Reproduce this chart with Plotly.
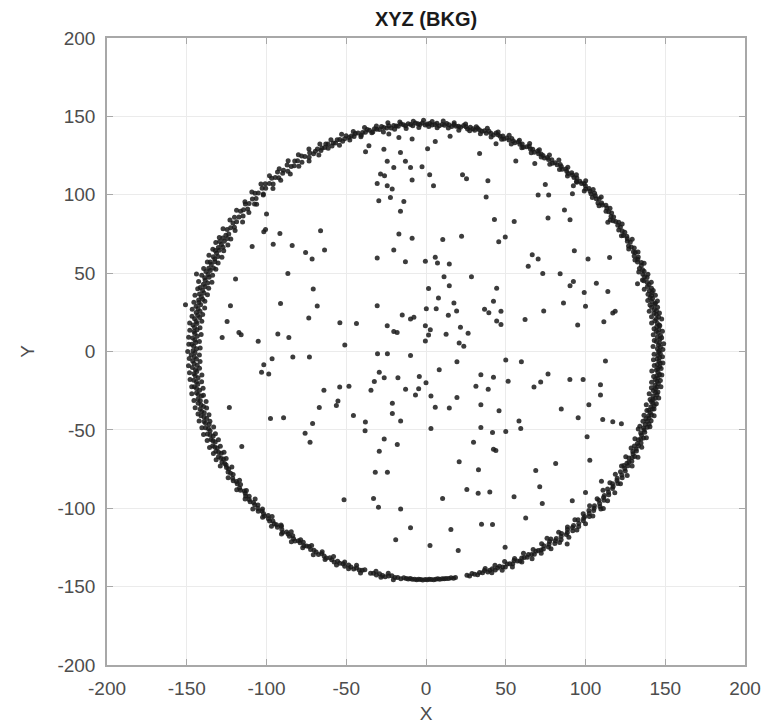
import numpy as np
import plotly.graph_objects as go

# ---------------------------------------------------------------
# Ring events, core of the band: polar angle (deg) and radius
# ---------------------------------------------------------------
ring_deg = [
    # 0-30
    0.2, 0.7, 1.1, 1.6, 2.2, 2.5, 3.1, 3.6, 4.0, 4.7,
    5.1, 5.5, 6.2, 6.6, 7.1, 7.8, 8.2, 8.6, 9.3, 9.7,
    10.2, 10.6, 11.3, 11.8, 12.1, 12.7, 13.4, 13.8, 14.2, 14.9,
    15.5, 15.9, 16.6, 17.0, 17.7, 18.3, 18.8, 19.2, 19.9, 20.5,
    21.0, 21.6, 22.1, 22.8, 23.3, 23.9, 24.4, 25.0, 25.7, 26.1,
    26.8, 27.4, 27.9, 28.6, 29.1, 29.7,
    # 30-60
    30.3, 30.9, 31.4, 32.0, 32.7, 33.1, 33.8, 34.3, 34.9, 35.4,
    36.1, 36.6, 37.2, 37.9, 38.4, 38.9, 39.6, 40.2, 40.7, 41.3,
    41.9, 42.4, 43.1, 43.7, 44.2, 44.8, 45.5, 46.0, 46.6, 47.2,
    47.7, 48.4, 49.0, 49.5, 50.1, 50.8, 51.3, 51.9, 52.5, 53.0,
    53.7, 54.3, 54.8, 55.4, 56.1, 56.6, 57.2, 57.9, 58.4, 59.0,
    59.6,
    # 60-90
    60.2, 60.8, 61.3, 61.9, 62.6, 63.1, 63.7, 64.2, 64.9, 65.5,
    66.0, 66.6, 67.3, 67.8, 68.4, 68.9, 69.6, 70.2, 70.7, 71.3,
    71.9, 72.5, 73.0, 73.7, 74.3, 74.8, 75.4, 76.0, 76.7, 77.2,
    77.8, 78.3, 79.0, 79.6, 80.1, 80.7, 81.4, 81.9, 82.5, 83.1,
    83.6, 84.3, 84.9, 85.4, 86.0, 86.7, 87.3, 87.8, 88.5, 89.1,
    # 90-120
    89.7, 90.2, 90.9, 91.5, 92.0, 92.6, 93.3, 93.8, 94.4, 95.1,
    95.6, 96.2, 96.9, 97.4, 98.0, 98.7, 99.2, 99.8, 100.5, 101.0,
    101.6, 102.3, 102.8, 103.4, 104.1, 104.6, 105.2, 105.9, 106.4, 107.0,
    107.7, 108.2, 108.8, 109.5, 110.0, 110.6, 111.3, 111.8, 112.4, 113.1,
    113.6, 114.2, 114.9, 115.4, 116.0, 116.7, 117.2, 117.8, 118.5, 119.2,
    # 120-150
    119.9, 120.6, 121.4, 122.0, 122.8, 123.5, 124.1, 124.9, 125.6, 126.2,
    127.0, 127.7, 128.3, 129.1, 129.8, 130.4, 131.2, 131.9, 132.5, 133.3,
    134.0, 134.6, 135.4, 136.1, 136.7, 137.5, 138.2, 138.8, 139.6, 140.3,
    140.9, 141.7, 142.4, 143.0, 143.8, 144.5, 145.1, 145.9, 146.6, 147.2,
    148.0, 148.8,
    # 150-210
    149.4, 149.9, 150.4, 150.9, 151.5, 152.0, 152.4, 153.0, 153.5, 154.0,
    154.5, 155.1, 155.6, 156.0, 156.6, 157.1, 157.6, 158.2, 158.7, 159.1,
    159.7, 160.2, 160.8, 161.3, 161.8, 162.3, 162.9, 163.4, 163.9, 164.5,
    165.0, 165.5, 166.1, 166.6, 167.0, 167.6, 168.1, 168.7, 169.2, 169.7,
    170.2, 170.8, 171.3, 171.8, 172.4, 172.9, 173.4, 174.0, 174.5, 175.0,
    175.5, 176.1, 176.6, 177.1, 177.7, 178.2, 178.7, 179.3, 179.8, 180.3,
    180.8, 181.4, 181.9, 182.4, 183.0, 183.5, 184.0, 184.6, 185.1, 185.6,
    186.1, 186.7, 187.2, 187.7, 188.3, 188.8, 189.3, 189.9, 190.4, 190.9,
    191.4, 192.0, 192.5, 193.0, 193.6, 194.1, 194.6, 195.2, 195.7, 196.2,
    196.7, 197.3, 197.8, 198.3, 198.9, 199.4, 199.9, 200.5, 201.0, 201.5,
    202.0, 202.6, 203.1, 203.6, 204.2, 204.7, 205.2, 205.8, 206.3, 206.8,
    207.3, 207.9, 208.4, 208.9, 209.5, 210.0,
    # 210-240
    210.6, 211.2, 211.8, 212.4, 213.0, 213.7, 214.3, 214.9, 215.5, 216.1,
    216.7, 217.3, 218.0, 218.6, 219.2, 219.8, 220.4, 221.0, 221.7, 222.3,
    222.9, 223.5, 224.1, 224.7, 225.4, 226.0, 226.6, 227.2, 227.8, 228.4,
    229.1, 229.7, 230.3, 230.9, 231.5, 232.1, 232.8, 233.4, 234.0, 234.6,
    235.2, 235.8, 236.5, 237.1, 237.7, 238.3, 238.9, 239.5,
    # 240-265
    240.2, 241.0, 241.7, 242.5, 243.1, 243.9, 244.6, 245.4, 246.0, 246.8,
    247.5, 248.2, 249.0, 249.6, 250.4, 251.1, 251.9, 252.5, 253.3, 254.0,
    254.6, 256.2, 256.9, 257.7, 258.4, 259.2, 259.9, 260.7, 261.5, 262.3,
    263.0, 263.8, 264.5,
    # 265-275
    265.1, 265.6, 266.1, 266.6, 267.2, 267.7, 268.2, 268.7, 269.2, 269.8,
    270.3, 270.8, 271.3, 271.9, 272.4, 272.9, 273.4, 274.0, 274.5, 275.0,
    # 275-300
    275.6, 276.2, 276.8, 277.3, 280.2, 280.8, 281.5, 282.1, 282.8, 283.4,
    284.1, 284.7, 285.4, 286.0, 286.7, 287.3, 288.0, 288.6, 289.3, 289.9,
    290.6, 291.2, 291.9, 292.5, 293.2, 293.8, 294.5, 295.1, 295.8, 296.4,
    297.1, 297.7, 298.4, 299.0, 299.7,
    # 300-330
    300.3, 300.8, 301.6, 302.1, 302.6, 303.4, 303.9, 304.4, 305.2, 305.7,
    306.2, 307.0, 307.5, 308.0, 308.8, 309.3, 309.8, 310.6, 311.1, 311.6,
    312.4, 312.9, 313.4, 314.2, 314.7, 315.2, 316.0, 316.5, 317.0, 317.8,
    318.3, 318.8, 319.6, 320.1, 320.6, 321.4, 321.9, 322.4, 323.2, 323.7,
    324.2, 325.0, 325.5, 326.0, 326.8, 327.3, 327.8, 328.6, 329.1, 329.6,
    # 330-360
    330.1, 330.5, 331.0, 331.5, 331.9, 332.4, 332.9, 333.3, 333.8, 334.3,
    334.7, 335.2, 335.7, 336.1, 336.6, 337.1, 337.5, 338.0, 338.5, 338.9,
    339.4, 339.9, 340.3, 340.8, 341.3, 341.7, 342.2, 342.7, 343.1, 343.6,
    344.1, 344.5, 345.0, 345.5, 345.9, 346.4, 346.9, 347.3, 347.8, 348.3,
    348.7, 349.2, 349.7, 350.1, 350.6, 351.1, 351.5, 352.0, 352.5, 352.9,
    353.4, 353.9, 354.3, 354.8, 355.3, 355.7, 356.2, 356.7, 357.1, 357.6,
    358.1, 358.5, 359.0, 359.5, 359.8,
]

ring_r = [
    # 0-30
    146.2, 145.1, 147.0, 145.8, 146.5, 144.6, 146.9, 145.3, 147.4, 146.0,
    144.9, 146.7, 145.5, 147.2, 146.1, 144.8, 145.9, 147.5, 146.3, 145.0,
    146.8, 145.6, 144.3, 146.4, 147.1, 145.2, 146.0, 144.7, 145.8, 146.6,
    145.3, 147.0, 144.9, 146.2, 145.5, 143.8, 146.4, 145.1, 144.6, 146.0,
    145.4, 143.9, 145.7, 146.5, 144.4, 145.2, 146.1, 144.0, 145.6, 144.8,
    146.3, 145.0, 143.7, 145.9, 144.5, 145.3,
    # 30-60
    145.8, 144.2, 146.0, 145.1, 143.6, 145.5, 144.7, 146.3, 145.0, 143.9,
    145.6, 144.5, 146.1, 145.2, 144.0, 145.7, 146.4, 144.8, 145.3, 143.5,
    145.9, 144.6, 145.4, 146.2, 144.3, 145.0, 145.8, 144.1, 145.5, 146.0,
    144.9, 145.3, 143.8, 145.6, 144.7, 145.2, 146.1, 144.4, 145.0, 145.7,
    144.2, 145.4, 146.0, 144.8, 145.1, 143.9, 145.6, 144.6, 145.3, 144.1,
    145.0,
    # 60-90
    145.2, 144.6, 145.9, 144.1, 145.4, 144.8, 146.0, 145.1, 143.9, 145.5,
    144.7, 145.8, 144.3, 145.0, 146.1, 144.6, 145.3, 144.0, 145.7, 144.9,
    145.4, 146.2, 144.5, 145.0, 145.9, 144.2, 145.6, 144.8, 145.3, 146.0,
    144.4, 145.1, 145.7, 144.3, 145.5, 146.1, 144.7, 145.2, 144.9, 145.8,
    144.5, 145.4, 146.0, 144.8, 145.2, 144.3, 145.7, 145.0, 144.6, 145.5,
    # 90-120
    145.1, 144.5, 145.8, 144.9, 145.4, 146.0, 144.3, 145.2, 145.7, 144.6,
    145.3, 146.1, 144.8, 145.0, 145.6, 144.2, 145.9, 144.7, 145.4, 146.2,
    144.5, 145.1, 145.8, 144.0, 145.5, 146.3, 144.9, 145.2, 143.8, 145.7,
    146.0, 144.4, 145.3, 144.9, 146.4, 145.0, 143.9, 145.6, 146.1, 144.6,
    145.2, 143.7, 145.9, 146.5, 144.8, 145.3, 144.1, 146.0, 145.4, 144.5,
    # 120-150
    146.3, 144.0, 145.7, 147.1, 143.6, 145.9, 146.8, 144.4, 145.2, 147.4,
    143.9, 146.1, 145.0, 147.6, 144.2, 145.8, 146.9, 143.5, 145.4, 147.0,
    144.7, 146.3, 143.2, 145.9, 147.3, 144.5, 146.0, 142.9, 145.6, 147.2,
    144.1, 145.8, 146.7, 143.6, 145.3, 147.5, 144.8, 146.2, 143.9, 145.7,
    147.0, 144.6,
    # 150-210
    145.8, 143.9, 146.6, 144.7, 147.2, 145.3, 143.6, 146.1, 144.9, 147.0,
    145.5, 143.8, 146.4, 145.0, 144.2, 146.8, 145.6, 143.5, 146.2, 144.8,
    147.1, 145.2, 144.0, 146.5, 145.7, 143.7, 146.0, 144.6, 147.3, 145.4,
    144.1, 146.7, 145.1, 143.9, 146.3, 145.8, 144.4, 147.0, 145.5, 144.0,
    146.2, 145.0, 143.6, 146.6, 145.3, 144.7, 147.1, 145.9, 144.2, 146.0,
    145.4, 143.8, 146.5, 145.1, 144.5, 146.9, 145.7, 143.9, 146.1, 144.8,
    147.2, 145.3, 144.0, 146.4, 145.6, 143.7, 146.8, 145.0, 144.3, 146.2,
    145.5, 143.9, 146.7, 145.2, 144.6, 147.0, 145.8, 144.1, 146.3, 145.4,
    143.6, 146.1, 144.9, 146.6, 145.1, 143.8, 146.4, 145.7, 144.4, 146.9,
    145.3, 144.0, 146.2, 145.6, 143.7, 146.5, 145.0, 144.5, 146.8, 145.4,
    143.9, 146.0, 145.2, 144.2, 146.6, 145.8, 144.6, 146.3, 145.1, 143.8,
    146.4, 145.5, 144.3, 146.1, 145.0, 144.7,
    # 210-240
    145.3, 144.6, 146.0, 145.1, 144.2, 145.7, 146.3, 144.9, 145.4, 143.9,
    145.8, 146.2, 144.5, 145.0, 145.9, 144.3, 145.6, 146.1, 144.8, 145.2,
    143.8, 145.5, 146.4, 144.7, 145.1, 145.9, 144.0, 145.4, 146.0, 144.6,
    145.3, 144.9, 145.8, 143.7, 145.2, 146.3, 144.5, 145.0, 145.7, 144.2,
    145.5, 146.1, 144.8, 145.3, 144.0, 145.6, 145.0, 144.4,
    # 240-265
    145.6, 144.9, 145.3, 146.0, 144.5, 145.2, 145.8, 144.7, 145.4, 146.1,
    144.8, 145.5, 145.0, 146.2, 144.6, 145.3, 145.9, 144.9, 145.5, 145.1,
    144.4, 145.7, 145.2, 145.9, 144.8, 145.4, 146.0, 145.1, 144.7, 145.5,
    145.2, 145.8, 145.0,
    # 265-275
    145.3, 145.5, 145.2, 145.6, 145.4, 145.7, 145.3, 145.5, 145.8, 145.4,
    145.6, 145.3, 145.5, 145.7, 145.4, 145.2, 145.6, 145.4, 145.5, 145.3,
    # 275-300
    145.5, 145.2, 145.7, 145.4, 145.0, 145.8, 144.6, 145.3, 146.1, 144.9,
    145.5, 144.4, 145.9, 145.1, 144.7, 146.0, 145.3, 144.5, 145.6, 146.2,
    144.8, 145.2, 145.9, 144.3, 145.4, 146.0, 144.7, 145.1, 145.8, 144.5,
    145.4, 146.1, 144.9, 145.2, 145.7,
    # 300-330
    145.9, 144.3, 146.4, 145.1, 143.8, 146.7, 145.4, 144.6, 147.0, 145.2,
    143.9, 146.2, 145.6, 144.1, 146.8, 145.0, 144.5, 147.1, 145.7, 143.6,
    146.3, 145.2, 144.8, 146.9, 145.5, 143.9, 146.1, 145.3, 144.4, 147.2,
    145.8, 144.0, 146.5, 145.1, 144.7, 146.6, 145.4, 143.7, 146.0, 145.6,
    144.2, 146.8, 145.3, 144.6, 147.0, 145.9, 144.1, 146.4, 145.2, 143.8,
    # 330-360
    146.1, 144.7, 145.5, 146.8, 144.2, 145.9, 147.0, 145.3, 144.5, 146.4,
    145.7, 143.9, 146.2, 145.0, 146.9, 144.6, 145.8, 147.1, 145.2, 144.3,
    146.5, 145.6, 144.8, 146.9, 145.1, 147.3, 145.7, 144.4, 146.2, 145.4,
    147.0, 145.9, 144.6, 146.6, 145.3, 147.2, 146.0, 144.9, 145.6, 146.8,
    145.1, 147.4, 146.3, 144.7, 145.8, 146.6, 145.2, 147.1, 146.0, 144.8,
    146.4, 145.5, 147.2, 146.1, 144.9, 145.7, 146.8, 145.3, 147.0, 146.2,
    145.0, 146.5, 145.4, 146.9, 145.8,
]

# ---------------------------------------------------------------
# Ring events on the inner / outer edges of the band
# ---------------------------------------------------------------
edge_deg = [
    # 340-40
    340.4, 341.1, 341.9, 342.6, 343.4, 344.0, 344.8, 345.6, 346.2, 347.0,
    347.7, 348.5, 349.1, 349.9, 350.7, 351.3, 352.1, 352.8, 353.6, 354.2,
    355.0, 355.8, 356.4, 357.2, 357.9, 358.7, 359.3, 0.5, 1.3, 1.9,
    2.8, 3.4, 4.3, 5.0, 5.8, 6.4, 7.3, 8.0, 8.9, 9.5,
    10.4, 11.0, 11.9, 12.5, 13.2, 14.0, 14.7, 15.3, 16.2, 17.4,
    18.6, 19.5, 20.8, 22.4, 24.0, 25.5, 27.2, 29.0, 31.1, 33.5,
    36.0, 38.4,
    # 40-95
    40.6, 41.9, 43.3, 44.6, 45.9, 47.4, 48.8, 50.1, 51.6, 52.9,
    54.2, 55.7, 57.0, 58.3, 59.8, 61.1, 62.5, 63.9, 65.2, 66.5,
    68.0, 69.3, 70.7, 72.1, 73.4, 74.9, 76.2, 77.6, 79.0, 80.3,
    81.7, 83.1, 84.4, 85.8, 87.2, 88.5, 89.3, 90.6, 91.8, 93.1,
    # 95-150
    95.0, 96.4, 97.9, 99.3, 100.8, 102.2, 103.7, 105.1, 106.6, 108.0,
    109.5, 110.9, 112.4, 113.8, 115.3, 116.7, 118.2, 119.6, 121.1, 122.5,
    124.0, 125.4, 126.9, 128.3, 129.8, 131.2, 132.7, 134.1, 135.6, 137.0,
    138.5, 139.9, 141.4, 142.8, 144.3, 145.7, 147.2, 148.4, 149.6, 150.7,
    # 150-215
    151.3, 152.2, 153.1, 154.0, 154.8, 155.7, 156.6, 157.4, 158.3, 159.2,
    160.0, 160.9, 161.8, 162.6, 163.5, 164.4, 165.2, 166.1, 167.0, 167.8,
    168.7, 169.6, 170.4, 171.3, 172.2, 173.0, 173.9, 174.8, 175.6, 176.5,
    177.4, 178.2, 179.1, 180.0, 180.9, 181.7, 182.6, 183.5, 184.3, 185.2,
    186.1, 186.9, 187.8, 188.7, 189.5, 190.4, 191.3, 192.1, 193.0, 193.9,
    194.7, 195.6, 196.5, 197.3, 198.2, 199.1, 199.9, 200.8, 201.7, 202.5,
    203.4, 204.3, 205.1, 206.0, 206.9, 207.7, 208.6, 209.5, 211.2, 213.0,
    # 215-262
    215.1, 216.6, 218.2, 219.7, 221.3, 222.8, 224.4, 225.9, 227.5, 229.0,
    230.6, 232.1, 233.7, 235.2, 236.8, 238.3, 239.9, 241.4, 243.0, 244.5,
    246.1, 247.6, 249.2, 250.7, 252.3, 253.8, 257.4, 258.9, 260.5, 262.0,
    # 285-340
    285.0, 286.3, 287.6, 288.9, 290.2, 291.5, 292.8, 294.1, 295.4, 296.7,
    298.0, 299.3, 300.6, 301.9, 303.2, 304.5, 305.8, 307.1, 308.4, 309.7,
    311.0, 312.3, 313.6, 314.9, 316.2, 317.5, 318.8, 320.1, 321.4, 322.7,
    324.0, 325.3, 326.6, 327.9, 329.2, 330.5, 331.8, 333.1, 334.4, 335.7,
    337.0, 338.3, 339.6, 302.5, 318.0,
]

edge_r = [
    # 340-40
    142.3, 148.4, 143.1, 147.9, 142.6, 148.8, 143.5, 147.6, 142.2, 148.2,
    143.8, 148.9, 142.5, 147.7, 143.2, 149.0, 142.8, 148.1, 143.6, 148.6,
    142.1, 147.8, 143.4, 148.7, 142.7, 148.3, 143.0, 148.5, 142.4, 149.1,
    143.3, 148.0, 142.9, 148.8, 143.7, 147.5, 142.6, 149.2, 143.1, 148.4,
    142.3, 147.9, 143.5, 148.6, 142.8, 148.2, 143.9, 147.7, 142.5, 148.0,
    143.2, 147.6, 142.7, 147.9, 143.4, 147.3, 142.9, 147.8, 143.1, 147.5,
    142.8, 147.2,
    # 40-95
    142.9, 147.6, 143.3, 147.2, 142.6, 147.9, 143.5, 147.0, 142.8, 147.4,
    143.1, 147.8, 142.5, 147.3, 143.6, 147.1, 142.9, 147.7, 143.2, 146.9,
    142.7, 147.5, 143.4, 147.2, 142.8, 147.6, 143.0, 146.8, 143.5, 147.3,
    142.6, 147.0, 143.3, 147.4, 142.9, 146.8, 143.6, 147.5, 143.0, 147.1,
    # 95-150
    142.8, 147.4, 143.2, 147.9, 142.5, 147.2, 143.6, 148.0, 142.9, 147.5,
    143.1, 148.3, 142.4, 147.7, 143.5, 148.1, 142.2, 148.6, 141.9, 148.9,
    142.6, 149.2, 141.7, 148.5, 142.3, 149.0, 141.5, 148.7, 142.8, 149.3,
    141.8, 148.4, 142.1, 149.1, 141.6, 148.8, 142.4, 149.4, 141.9, 148.6,
    # 150-215
    141.6, 149.0, 142.2, 148.7, 141.4, 149.3, 142.0, 148.5, 141.8, 149.1,
    142.4, 148.8, 141.3, 149.4, 142.1, 148.6, 141.7, 149.2, 142.3, 148.9,
    141.5, 149.0, 142.0, 148.4, 141.9, 149.3, 142.5, 148.7, 141.4, 149.1,
    142.2, 148.8, 141.6, 149.4, 142.1, 148.5, 141.8, 149.2, 142.4, 148.9,
    141.3, 149.0, 142.0, 148.6, 141.7, 149.3, 142.3, 148.8, 141.5, 149.1,
    142.2, 148.4, 141.9, 149.0, 142.6, 148.7, 141.6, 149.2, 142.1, 148.5,
    141.8, 148.9, 142.4, 148.3, 142.0, 148.6, 142.7, 148.2, 142.3, 147.9,
    # 215-262
    142.9, 147.8, 143.3, 147.4, 142.6, 148.0, 143.5, 147.2, 142.8, 147.7,
    143.2, 147.5, 142.7, 147.9, 143.6, 147.1, 143.0, 147.6, 143.4, 147.0,
    143.1, 147.3, 143.6, 146.9, 143.2, 147.2, 143.7, 146.8, 143.4, 147.0,
    # 285-340
    143.4, 147.1, 143.0, 147.5, 142.7, 147.8, 143.3, 147.2, 142.5, 148.0,
    143.1, 147.6, 142.4, 148.3, 142.9, 147.9, 142.2, 148.5, 142.8, 148.1,
    142.3, 148.6, 142.9, 148.2, 142.1, 148.7, 142.6, 148.4, 142.0, 148.8,
    142.5, 148.3, 142.2, 148.9, 142.7, 148.5, 142.1, 149.0, 142.6, 148.4,
    142.3, 148.7, 142.0, 141.2, 149.6,
]

# ---------------------------------------------------------------
# Events inside the ring (x, y)
# ---------------------------------------------------------------
inner_x = [
    -23.3, -17.0, -8.7, -37.9, -35.8, -26.4, -16.0, -24.3, -20.2, -12.9,
    -9.7, -28.5, -26.0, -30.6, -24.3, -21.2, -8.7, -29.6, -22.3, -13.9,
    -16.0, -17.0, -8.7, -20.2, -12.9, -30.6, -30.6, -14.9, -9.7, -7.6,
    -24.3, -20.2, -18.1, -100.0, -101.7, -100.6, -91.6, -66.1, -109.0, -95.8,
    -83.9, -75.5, -71.4, -63.6, -119.4, -86.6, -70.7, -143.9, -150.8, -122.6,
    -91.2, -68.2, -73.5, -54.0, -43.6, -124.7, -117.3, -115.9, -127.8, -105.2,
    -92.9, -86.0, -50.9,
    5.8, 15.1, 1.0, 33.6, 43.9, 56.3, 68.2, -2.5, 2.3, 4.7,
    22.9, 25.4, 38.8, 37.7, 74.8, 92.4, 70.3, 76.9, 91.8, 86.8,
    42.9, 55.3, 76.5, 90.3, 114.0, 10.5, 22.3, 45.6, 49.7, 93.0,
    66.6, 70.3, 101.6, 115.1, -0.4, 5.8, 7.2, 14.6, 64.1, 11.3,
    28.5, 73.2, 84.1, 1.6, 14.6, 44.3, 90.3, 92.4, 106.8, 99.2,
    114.0, 132.6, 7.8, 17.5, 42.3, 0.2, 6.4, 19.2, 14.0, 36.7,
    39.4, 47.0, 73.8, 86.2, 100.0, 117.1, 118.6, 111.5, 44.3, 47.0,
    62.1, 95.1, -0.4, 2.7, 1.6, 21.6, 26.4, 12.6, -0.4, 20.8,
    23.7,
    -30.4, -24.2, -9.7, -96.5, -101.7, -103.1, -98.6, -83.5, -73.1, -29.3,
    -26.2, -32.4, -17.6, -34.5, -64.0, -54.1, -48.3, -12.8, -6.6, -21.1,
    -55.2, -56.2, -66.9, -123.3, -21.1, -45.5, -15.9, -38.0, -38.2, -97.5,
    -89.3, -71.1, -75.8, -72.7, -26.2, -18.0, -29.3, -115.5, -31.8, -24.2,
    -51.4, -32.9, -29.8, -15.9, -9.7, -19.0,
    19.4, 50.0, 59.8, 112.5, -4.2, 0.0, -4.6, 8.3, 34.4, 42.3,
    31.3, 39.0, 51.5, 76.5, 71.9, 67.7, 90.2, 98.5, 109.4, 109.4,
    3.1, 19.4, 5.8, 14.6, 34.4, 45.8, 84.8, 102.1, 95.4, 110.8,
    117.1, 122.5, 58.3, 59.4, 3.1, 34.4, 41.7, 50.0, 101.0, 29.8,
    42.3, 43.8, 102.7, 20.8, 81.3, 32.9, 68.8, 110.0, 71.3, 25.6,
    32.7, 40.0, 10.4, 55.2, 72.9, 91.7, 100.0, 62.5, 34.8, 41.7,
    15.6, 2.5, 20.2, 49.6, 88.5,
]

inner_y = [
    138.7, 136.6, 135.5, 127.4, 131.3, 129.1, 127.0, 121.3, 117.4, 121.3,
    117.4, 113.2, 112.1, 107.2, 105.7, 103.6, 109.4, 96.2, 98.3, 95.7,
    89.4, 74.9, 72.2, 64.7, 57.3, 59.6, 29.2, 23.3, 20.7, 21.8,
    16.5, 12.8, 12.2, 87.7, 76.4, 77.8, 75.3, 77.0, 67.0, 68.5,
    67.7, 63.2, 59.0, 64.7, 46.2, 49.8, 39.8, 49.4, 29.8, 29.2,
    30.7, 29.0, 21.3, 18.4, 17.9, 19.2, 12.2, 10.7, 9.0, 6.5,
    11.1, 9.0, 4.1,
    134.0, 137.3, 129.4, 126.3, 132.5, 121.5, 120.0, 117.9, 112.7, 105.8,
    112.7, 110.2, 109.0, 98.5, 106.5, 105.8, 99.8, 99.8, 100.6, 90.2,
    84.2, 82.9, 85.2, 84.0, 82.5, 71.5, 73.5, 70.0, 73.1, 64.2,
    61.7, 59.0, 59.0, 60.0, 57.5, 60.2, 56.5, 55.8, 54.4, 47.7,
    47.7, 49.8, 49.6, 40.2, 41.9, 40.4, 41.9, 44.6, 43.5, 37.7,
    38.3, 43.3, 34.2, 31.0, 32.1, 27.3, 27.3, 25.8, 23.1, 26.9,
    24.8, 25.6, 25.8, 31.0, 28.8, 24.6, 25.6, 19.0, 19.4, 17.3,
    20.4, 16.9, 16.5, 13.8, 10.6, 15.4, 11.7, 11.0, 6.7, 5.4,
    3.3,
    -1.5, -1.5, -2.5, -4.6, -8.5, -13.3, -14.3, -3.5, -3.5, -13.3,
    -16.8, -19.1, -16.8, -24.7, -24.7, -22.6, -22.2, -24.1, -27.8, -33.0,
    -31.5, -34.4, -35.7, -35.7, -39.6, -40.9, -44.4, -45.0, -50.6, -42.7,
    -42.3, -45.9, -52.1, -57.9, -55.8, -59.3, -63.7, -60.6, -77.0, -77.0,
    -94.6, -93.8, -99.4, -100.4, -112.4, -120.1,
    -6.6, -5.4, -6.6, -6.0, -16.0, -19.9, -23.7, -11.6, -14.9, -16.4,
    -22.2, -24.1, -18.9, -14.3, -19.5, -22.6, -17.8, -17.8, -21.2, -27.8,
    -28.4, -29.3, -35.5, -36.1, -34.0, -37.8, -36.7, -34.0, -42.3, -43.4,
    -44.8, -46.1, -44.4, -49.2, -49.2, -48.5, -51.7, -51.0, -54.4, -57.9,
    -62.4, -63.1, -69.3, -70.3, -71.4, -75.5, -75.9, -82.8, -86.3, -88.0,
    -90.5, -89.6, -93.8, -92.7, -96.9, -95.2, -90.0, -106.2, -110.2, -110.4,
    -113.5, -123.7, -127.0, -124.9, -122.8,
]

# Axis ticks (labels written with a plain hyphen)
tick_vals = [-200, -150, -100, -50, 0, 50, 100, 150, 200]
tick_text = ["-200", "-150", "-100", "-50", "0", "50", "100", "150", "200"]

# ---------------------------------------------------------------
def polar_to_xy(deg, r):
    n = min(len(deg), len(r))
    t = np.deg2rad(np.array(deg[:n]))
    rr = np.array(r[:n])
    return rr * np.cos(t), rr * np.sin(t)


core_x, core_y = polar_to_xy(ring_deg, ring_r)
edge_x, edge_y = polar_to_xy(edge_deg, edge_r)
n_in = min(len(inner_x), len(inner_y))

all_x = np.concatenate([core_x, edge_x, np.array(inner_x[:n_in])])
all_y = np.concatenate([core_y, edge_y, np.array(inner_y[:n_in])])

FONT = "Liberation Sans, Arial, Helvetica, sans-serif"
TICK_COLOR = "#4d4d4d"
FRAME = "#a8a8a8"

fig = go.Figure()
fig.add_trace(go.Scatter(
    x=all_x, y=all_y, mode="markers",
    marker=dict(symbol="circle", size=5, color="#1a1a1a", opacity=0.85,
                line=dict(width=0)),
    showlegend=False, hoverinfo="skip",
))

axis_common = dict(
    range=[-200, 200],
    automargin=False,
    tickmode="array", tickvals=tick_vals, ticktext=tick_text,
    showgrid=True, gridcolor="#ebebeb", gridwidth=1,
    zeroline=False,
    showline=True, linecolor=FRAME, linewidth=1.5, mirror="ticks",
    ticks="inside", ticklen=6, tickcolor=FRAME, tickwidth=1,
    tickfont=dict(family=FONT, size=19, color=TICK_COLOR),
    fixedrange=True,
)

fig.update_layout(
    width=774, height=725,
    margin=dict(l=107, r=29, t=38, b=60, pad=0),
    paper_bgcolor="white", plot_bgcolor="white",
    title=dict(
        text="<b>XYZ (BKG)</b>",
        font=dict(family=FONT, size=20, color="#1a1a1a"),
        x=0.5, xref="paper", xanchor="center",
        y=1 - 19 / 725, yref="container", yanchor="middle",
    ),
    xaxis=dict(
        **axis_common,
        ticklabelstandoff=5,
        title=dict(text="X", font=dict(family=FONT, size=19, color=TICK_COLOR),
                   standoff=9),
    ),
    yaxis=dict(
        **axis_common,
        ticklabelstandoff=6,
        title=dict(text="Y", font=dict(family=FONT, size=19, color=TICK_COLOR),
                   standoff=18),
    ),
)

fig.write_html("out.html", include_plotlyjs=True, config={"displayModeBar": False})
